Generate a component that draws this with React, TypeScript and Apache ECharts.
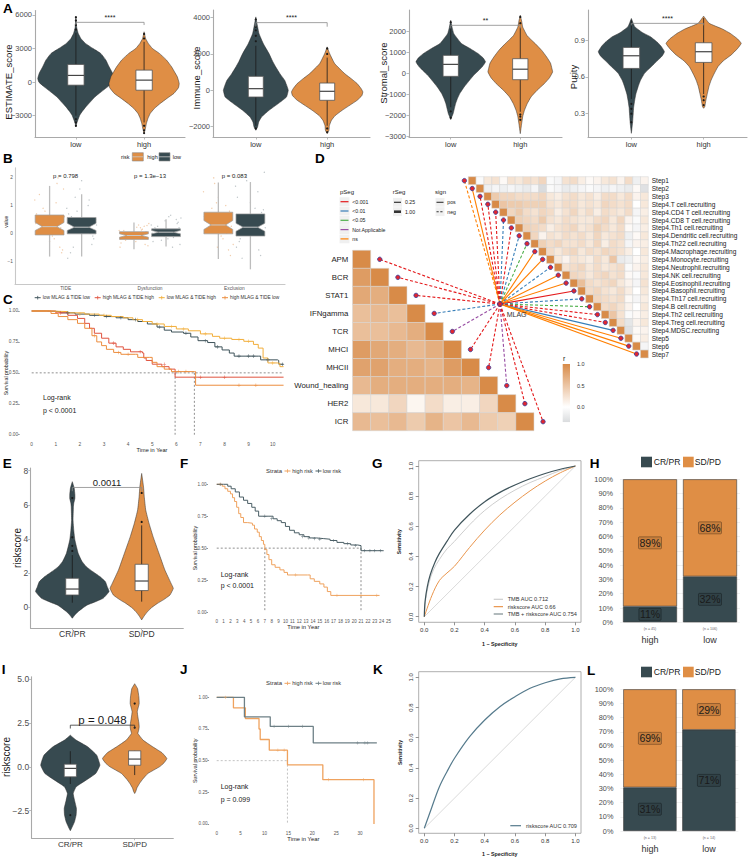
import React, { useEffect, useRef } from "react";
import * as echarts from "echarts";

const FONT = '"Liberation Sans", Arial, Helvetica, sans-serif';
const SLATE = "#374A50";
const ORANGE = "#DF8E45";
const TICK_GRAY = "#4D4D4D";
const AXIS_GRAY = "#A9A9A9";
const MINUS = "\u2212";
const PLUS = "path://M4.2,0H5.8V10H4.2ZM0,4.2H10V5.8H0Z";

// ================= Panel A =================
const A_GROUPS = ["low", "high"];
const A1_TICKS = [-3000, 0, 3000, 6000];
const A2_TICKS = [-2000, 0, 2000, 4000];
const A3_TICKS = [-3000, -2000, -1000, 0, 1000, 2000];
const A4_TICKS = [0.3, 0.6, 0.9];

const A1_LOW_PROFILE = [[5850,0],[4900,0.02],[4360,0.06],[3900,0.13],[3460,0.25],[3000,0.45],[2570,0.65],[2000,0.78],[1370,0.87],[800,0.96],[330,1.0],[0,0.97],[-420,0.83],[-900,0.65],[-1310,0.5],[-1800,0.37],[-2210,0.26],[-2600,0.17],[-2955,0.1],[-3400,0.05],[-3700,0.02],[-4000,0]];
const A1_HIGH_PROFILE = [[4500,0],[3900,0.04],[3460,0.11],[3000,0.22],[2570,0.4],[2000,0.58],[1370,0.72],[900,0.8],[480,0.87],[-120,0.92],[-500,0.9],[-1010,0.78],[-1450,0.6],[-1910,0.42],[-2350,0.27],[-2800,0.16],[-3250,0.1],[-3700,0.06],[-4200,0.03],[-4600,0]];
const A1_LOW_BOX = [-3000, -270, 600, 1580, 4400];
const A1_HIGH_BOX = [-3600, -720, 180, 1075, 3600];
const A1_LOW_OUT = [4700, 5100, 5500, 5800, -3300, -3600, -3900];
const A1_HIGH_OUT = [3900, 4300, -3900, -4300, -4550];

const A2_LOW_PROFILE = [[4040,0],[3500,0.05],[3120,0.09],[2570,0.21],[2020,0.37],[1600,0.47],[1280,0.56],[900,0.68],[550,0.81],[200,0.88],[0,0.91],[-370,0.86],[-730,0.63],[-1100,0.37],[-1470,0.16],[-1750,0.08],[-2020,0.05],[-2200,0]];
const A2_HIGH_PROFILE = [[2390,0],[2020,0.07],[1470,0.21],[920,0.49],[600,0.7],[370,0.84],[100,0.95],[-90,1.0],[-300,0.97],[-550,0.84],[-800,0.65],[-1100,0.42],[-1400,0.22],[-1650,0.12],[-1950,0.06],[-2200,0.05],[-2390,0]];
const A2_LOW_BOX = [-1950, -370, 90, 770, 2450];
const A2_HIGH_BOX = [-1950, -550, -55, 400, 1800];
const A2_LOW_OUT = [2700, 3000, 3300, 3500, 3900, -2100];
const A2_HIGH_OUT = [2000, 2300, -2100, -2300];

const A3_LOW_PROFILE = [[2540,0],[2200,0.04],[1900,0.09],[1430,0.31],[1200,0.55],[950,0.79],[750,0.93],[560,1.0],[350,0.92],[160,0.81],[-80,0.66],[-320,0.54],[-650,0.38],[-950,0.26],[-1200,0.19],[-1430,0.14],[-1700,0.1],[-1900,0.07],[-2190,0]];
const A3_HIGH_PROFILE = [[2780,0],[2500,0.04],[2220,0.07],[1800,0.2],[1430,0.43],[1100,0.62],[790,0.76],[500,0.87],[240,0.91],[80,0.93],[-200,0.84],[-480,0.69],[-800,0.48],[-1110,0.31],[-1430,0.2],[-1750,0.12],[-2050,0.07],[-2380,0.04],[-2860,0]];
const A3_LOW_BOX = [-1600, -130, 440, 870, 2300];
const A3_HIGH_BOX = [-1820, -290, 210, 710, 2200];
const A3_LOW_OUT = [-1800, -2100, 2450];
const A3_HIGH_OUT = [-1950, -2050, -2200, 2400, 2700];

const A4_LOW_PROFILE = [[1.076,0],[1.009,0.09],[0.96,0.3],[0.927,0.51],[0.88,0.7],[0.846,0.8],[0.805,0.88],[0.77,0.82],[0.737,0.71],[0.68,0.52],[0.629,0.35],[0.57,0.24],[0.52,0.18],[0.46,0.12],[0.411,0.09],[0.35,0.06],[0.303,0.05],[0.22,0.03],[0.14,0]];
const A4_HIGH_PROFILE = [[1.095,0],[1.036,0.15],[0.99,0.5],[0.954,0.71],[0.91,0.9],[0.873,1.0],[0.83,0.9],[0.778,0.73],[0.73,0.52],[0.683,0.38],[0.62,0.27],[0.574,0.2],[0.52,0.14],[0.466,0.1],[0.41,0.06],[0.357,0.03],[0.344,0]];
const A4_LOW_BOX = [0.42, 0.669, 0.772, 0.84, 1.06];
const A4_HIGH_BOX = [0.46, 0.718, 0.805, 0.878, 1.08];
const A4_LOW_OUT = [0.38, 0.34, 0.3, 0.23];
const A4_HIGH_OUT = [0.44, 0.41, 0.37];

// ================= Panel B =================
const B_GROUPS = ["TIDE", "Dysfunction", "Exclusion"];
const B_PVALUES = ["p = 0.798", "p = 1.3e\u221213", "p = 0.083"];
const B_TICKS = [-1, 0, 1, 2];
const B_HIGH_BOX = [[-0.84,-0.06,0.24,0.66,1.71],[-0.58,-0.22,-0.08,0.06,0.39],[-0.93,-0.02,0.3,0.76,1.83]];
const B_LOW_BOX = [[-0.84,-0.02,0.22,0.57,1.41],[-0.48,-0.12,0.04,0.16,0.51],[-1.3,-0.1,0.22,0.7,1.85]];
const B_HIGH_NOTCH = [[0.1,0.39],[-0.14,-0.02],[0.14,0.46]];
const B_LOW_NOTCH = [[0.1,0.36],[-0.02,0.1],[0.07,0.36]];
const B_JITTER = [-0.16,0.02,0.11,-0.07,0.15,-0.12,0.05,-0.02,0.09,-0.14,0.13,-0.04,0.07,-0.09,0.16,0.0,-0.11,0.12,-0.05,0.03,-0.15,0.08,-0.01,0.14];
const B_HIGH_POINTS = [
  [1.2,0.3,-0.5,0.9,1.6,0.1,-0.2,0.5,2.0,0.7,-0.7,0.4,1.1,0.0,0.6,-0.3,1.4,0.2,0.8,-0.1,0.35,1.8,0.55,-0.6],
  [0.1,-0.3,0.25,-0.1,-0.45,0.0,0.3,-0.2,0.15,-0.35,0.05,-0.05,0.2,-0.25,0.35,-0.15,0.1,-0.4,0.0,0.22,-0.5,0.12,-0.08,0.28],
  [1.5,0.2,-0.6,0.9,2.1,0.4,-0.2,1.1,0.0,0.7,-0.8,1.8,0.3,0.5,-0.4,1.3,0.1,0.8,2.0,-0.1,0.6,1.0,-0.5,0.25],
];
const B_LOW_POINTS = [
  [0.9,0.1,-0.4,1.3,0.5,-0.7,0.2,1.6,0.0,0.7,-0.2,0.4,1.0,-0.5,0.3,1.9,0.6,-0.1,0.8,0.15,-0.9,1.2,0.45,0.05],
  [0.3,-0.2,0.5,0.0,-0.4,0.2,0.65,-0.1,0.1,-0.3,0.4,0.05,-0.5,0.25,0.55,-0.05,0.15,0.35,-0.25,0.6,0.0,-0.15,0.45,0.2],
  [1.7,0.1,-0.8,0.6,2.2,-0.3,0.9,0.3,-0.6,1.3,0.0,1.9,0.5,-0.9,0.2,1.1,-0.2,0.75,2.1,0.4,-0.5,1.5,0.05,0.85],
];

// ================= Panel C =================
const C_X_TICKS = [0,1,2,3,4,5,6,7,8,9,10];
const KM_Y_TICKS = [0, 0.25, 0.5, 0.75, 1];
const C_NAMES = ["low MLAG & TIDE low", "high MLAG & TIDE high", "low MLAG & TIDE high", "high MLAG & TIDE low"];
const C_COLORS = ["#3E535A", "#E0533F", "#F2AE3A", "#EC8D3E"];
const C_LOWLOW = [[0,1],[0.6,0.995],[1.2,0.985],[1.8,0.975],[2.4,0.965],[3.0,0.955],[3.5,0.945],[4.0,0.93],[4.4,0.915],[4.8,0.895],[5.2,0.87],[5.5,0.845],[5.8,0.83],[6.3,0.82],[6.6,0.79],[6.9,0.76],[7.3,0.745],[7.6,0.71],[7.9,0.685],[8.2,0.66],[8.4,0.635],[9.4,0.635],[9.5,0.605],[10.2,0.6],[10.25,0.57],[10.45,0.57]];
const C_HIGHHIGH = [[0,1],[1.0,0.985],[1.5,0.965],[1.9,0.94],[2.2,0.9],[2.4,0.86],[2.6,0.82],[2.9,0.78],[3.2,0.74],[3.5,0.71],[3.8,0.69],[4.1,0.67],[4.6,0.66],[4.65,0.62],[4.75,0.6],[5.0,0.57],[5.4,0.55],[5.7,0.53],[5.95,0.465],[10.45,0.465]];
const C_LOWHIGH = [[0,1],[0.7,0.995],[1.5,0.985],[2.2,0.975],[2.8,0.965],[3.3,0.955],[3.8,0.945],[4.2,0.93],[4.6,0.915],[5.0,0.895],[5.5,0.875],[6.0,0.855],[6.5,0.84],[7.0,0.815],[7.5,0.795],[7.8,0.78],[8.3,0.77],[8.8,0.755],[9.2,0.73],[9.4,0.7],[9.6,0.62],[9.8,0.58],[10.2,0.575],[10.3,0.55],[10.45,0.55]];
const C_HIGHLOW = [[0,1],[0.8,0.98],[1.1,0.955],[1.5,0.93],[1.9,0.9],[2.2,0.86],[2.5,0.8],[2.7,0.75],[2.9,0.72],[3.1,0.69],[3.4,0.665],[3.7,0.65],[4.3,0.65],[4.4,0.625],[4.9,0.625],[5.0,0.585],[5.2,0.55],[5.5,0.53],[5.8,0.51],[6.75,0.51],[6.8,0.4],[10.45,0.4]];
const C_LOWLOW_CENS = [[1.5,0.985],[2.6,0.965],[3.1,0.955],[3.7,0.945],[4.3,0.93],[5.3,0.87],[6.4,0.82],[7.2,0.76],[7.7,0.71],[8.6,0.635],[9.0,0.635],[9.2,0.635],[9.8,0.605],[10.4,0.57]];
const C_LOWHIGH_CENS = [[2.0,0.975],[3.0,0.965],[4.4,0.93],[5.2,0.895],[5.8,0.875],[6.3,0.855],[7.2,0.815],[8.0,0.78],[8.6,0.77],[9.0,0.755],[10.0,0.58]];
const C_HIGHHIGH_CENS = [[1.2,0.985],[3.4,0.74],[4.5,0.67],[5.5,0.57],[7.0,0.465],[8.0,0.465]];
const C_HIGHLOW_CENS = [[2.6,0.8],[3.6,0.665],[4.0,0.65],[6.1,0.51],[6.4,0.51],[8.6,0.4],[9.3,0.4]];
const C_MEDIANS = [5.95, 6.75];

// ================= Panel D =================
const STEP_NAMES = ["Step1","Step2","Step3","Step4.T cell.recruiting","Step4.CD4 T cell.recruiting","Step4.CD8 T cell.recruiting","Step4.Th1 cell.recruiting","Step4.Dendritic cell.recruiting","Step4.Th22 cell.recruiting","Step4.Macrophage.recruiting","Step4.Monocyte.recruiting","Step4.Neutrophil.recruiting","Step4.NK cell.recruiting","Step4.Eosinophil.recruiting","Step4.Basophil.recruiting","Step4.Th17 cell.recruiting","Step4.B cell.recruiting","Step4.Th2 cell.recruiting","Step4.Treg cell.recruiting","Step4.MDSC.recruiting","Step5","Step6","Step7"];
const STEP_R = [
  [1,-0.05,0.2,0.25,0.05,0.25,0.2,0.3,0.25,0.35,-0.05,-0.1,0.25,0.3,0.15,0.05,0.1,0.2,0.25,0.1,0.3,-0.15,0.1],
  [1,-0.15,-0.1,-0.15,-0.1,-0.15,-0.2,-0.1,-0.35,-0.05,-0.1,-0.2,-0.15,-0.1,-0.05,-0.1,-0.15,-0.1,-0.15,-0.2,0.05,-0.3],
  [1,0.45,0.35,0.35,0.3,0.3,0.3,0.35,0.2,0.15,0.25,0.3,0.2,0.25,0.15,0.3,0.3,0.2,0.3,0.1,0.2],
  [1,0.5,0.45,0.45,0.4,0.4,0.4,0.25,0.2,0.3,0.3,0.2,0.25,0.2,0.35,0.3,0.25,0.3,0.0,0.2],
  [1,0.35,0.45,0.3,0.25,0.35,0.3,0.15,0.25,0.35,0.2,0.3,0.15,0.3,0.25,0.2,0.3,-0.1,0.15],
  [1,0.4,0.35,0.3,0.45,0.25,0.2,0.3,0.25,0.2,0.2,0.3,0.35,0.2,0.35,0.1,-0.05,0.2],
  [1,0.4,0.35,0.3,0.15,0.25,0.3,0.35,0.2,0.25,0.4,0.3,0.2,0.3,0.05,-0.1,0.15],
  [1,0.35,0.1,0.25,0.2,0.3,0.25,0.3,0.2,0.35,0.2,0.25,0.3,-0.15,0.05,0.2],
  [1,0.4,0.3,0.35,0.25,0.25,0.3,0.2,0.35,0.15,0.3,0.25,-0.1,0.1,0.15],
  [1,0.3,0.2,0.3,0.35,0.2,0.3,0.25,0.35,0.3,0.25,0.15,0.0,0.2],
  [1,0.2,0.1,0.25,0.2,0.15,0.3,0.2,0.5,-0.2,-0.15,0.05,0.15],
  [1,0.25,0.3,0.35,0.2,0.3,0.2,0.25,0.3,-0.05,0.1,0.2],
  [1,0.35,0.3,0.2,0.3,0.35,0.25,0.3,0.05,-0.05,0.2],
  [1,0.55,0.3,0.25,0.3,0.35,0.2,0.1,-0.1,0.25],
  [1,0.3,0.35,0.25,0.2,0.3,0.15,0.0,0.2],
  [1,0.35,0.3,0.25,0.3,0.05,-0.1,0.15],
  [1,0.3,0.35,0.25,0.1,0.0,0.2],
  [1,0.5,0.25,-0.05,0.05,0.15],
  [1,0.3,-0.25,0.1,0.2],
  [1,-0.3,0.05,0.1],
  [1,0.05,0.15],
  [1,-0.1],
  [1],
];
const STEP_PSEG = ["ns","ns","<0.001","<0.001","<0.001","<0.01","<0.001","<0.01","<0.05","ns","ns","<0.01","ns","ns","<0.001","<0.01","<0.05","<0.001","<0.001","<0.01","ns","ns","ns"];
const STEP_SIGN = ["neg","pos","neg","neg","neg","neg","neg","neg","neg","pos","pos","neg","pos","pos","pos","neg","neg","neg","neg","pos","pos","pos","pos"];
const SIG_NAMES = ["APM","BCR","STAT1","IFNgamma","TCR","MHCI","MHCII","Wound_healing","HER2","ICR"];
const SIG_R = [
  [1],
  [0.85,1],
  [0.75,0.7,1],
  [0.55,0.6,0.55,1],
  [0.55,0.55,0.6,0.7,1],
  [0.85,0.75,0.7,0.6,0.7,1],
  [0.8,0.8,0.7,0.7,0.65,0.85,1],
  [0.6,0.7,0.7,0.7,0.7,0.7,0.65,1],
  [0.2,0.2,0.35,0.08,0.3,0.15,0.15,0.35,1],
  [0.6,0.55,0.6,0.45,0.65,0.5,0.6,0.45,0.4,1],
];
const SIG_PSEG = ["<0.001","<0.001","<0.001","<0.01","Not Applicable","<0.001","<0.001","Not Applicable","<0.001","<0.001"];
const SIG_SIGN = ["neg","neg","neg","neg","neg","neg","neg","neg","neg","neg"];
const PSEG_LEVELS = ["<0.001","<0.01","<0.05","Not Applicable","ns"];
const PSEG_COLORS = ["#E41A1C","#377EB8","#4DAF4A","#984EA3","#FF7F00"];
const RSEG_LEVELS = ["0.25","1.00"];
const SIGN_LEVELS = ["pos","neg"];
const R_LEGEND = [1.0, 0.5, 0.0];
const R_MIN = -0.35;

// ================= Panel E / I =================
const RESP_GROUPS = ["CR/PR", "SD/PD"];
const E_TICKS = [0, 2, 4, 6, 8];
const E_CR_PROFILE = [[7.36,0],[7.0,0.05],[6.6,0.07],[6.38,0.07],[6.1,0.04],[5.9,0.03],[5.1,0.02],[4.5,0.04],[3.94,0.07],[3.16,0.16],[2.7,0.26],[2.38,0.38],[2.1,0.55],[1.8,0.75],[1.5,0.9],[1.21,0.95],[0.92,1.0],[0.53,0.84],[0.3,0.6],[0.14,0.41],[-0.05,0.28],[-0.25,0.16],[-0.45,0.07],[-0.64,0]];
const E_SD_PROFILE = [[7.84,0],[7.06,0.05],[6.48,0.07],[5.7,0.11],[4.92,0.2],[4.14,0.31],[3.16,0.47],[2.19,0.63],[1.4,0.8],[1.11,0.86],[0.72,0.77],[0.45,0.6],[0.23,0.43],[0.0,0.28],[-0.25,0.16],[-0.5,0.07],[-0.74,0]];
const E_CR_BOX = [0.27, 0.72, 1.07, 1.7, 3.06];
const E_SD_BOX = [0.33, 0.98, 1.54, 2.52, 4.8];
const E_CR_OUT = [3.3, 3.6, 4.1, 6.4];
const E_SD_OUT = [5.0, 6.7];
const E_PVALUE = "0.0011";

const I_TICKS = [-2.5, 0, 2.5, 5];
const I_CR_PROFILE = [[1.8,0],[1.52,0.18],[1.14,0.54],[0.66,0.82],[0.09,0.92],[-0.38,0.79],[-0.76,0.49],[-1.14,0.18],[-1.52,0.09],[-1.9,0.13],[-2.37,0.19],[-2.75,0.18],[-3.13,0.13],[-3.5,0.04],[-3.64,0]];
const I_SD_PROFILE = [[4.73,0],[4.45,0.09],[3.98,0.13],[3.6,0.14],[3.3,0.1],[3.13,0.08],[2.84,0.1],[2.5,0.13],[2.27,0.14],[2.05,0.12],[1.9,0.1],[1.52,0.26],[1.14,0.56],[0.8,0.85],[0.47,1.0],[0.2,0.9],[0.0,0.77],[-0.38,0.41],[-0.7,0.25],[-0.95,0.15],[-1.2,0.07],[-1.42,0.03],[-1.52,0]];
const I_CR_BOX = [-0.98, -0.57, -0.09, 0.15, 0.89];
const I_SD_BOX = [-0.47, 0.09, 0.44, 0.91, 0.91];
const I_CR_OUT = [-2.75];
const I_SD_OUT = [2.23, 3.6];
const I_PVALUE = "p = 0.048";

// ================= Panel F / J =================
const RISK_NAMES = ["high risk", "low risk"];
const RISK_COLORS = ["#EFA25E", "#4A5E65"];
const F_X_TICKS = [0,1,2,3,4,5,6,7,8,9,10,11,12,13,14,15,16,17,18,19,20,21,22,23,24,25];
const F_HIGH = [[0,1],[0.8,0.985],[1.2,0.965],[1.6,0.945],[2.0,0.925],[2.3,0.895],[2.6,0.865],[2.9,0.82],[3.2,0.77],[3.5,0.74],[3.9,0.7],[4.5,0.695],[5.2,0.68],[5.5,0.65],[5.9,0.625],[6.2,0.59],[6.5,0.56],[6.8,0.53],[7.0,0.49],[7.3,0.45],[7.6,0.41],[8.0,0.37],[8.5,0.35],[9.2,0.33],[9.8,0.31],[10.3,0.29],[13.2,0.29],[13.6,0.26],[14.2,0.24],[15.0,0.22],[15.6,0.195],[16.1,0.16],[16.6,0.13],[23.7,0.13]];
const F_LOW = [[0,1],[1.0,1],[1.6,0.985],[2.1,0.965],[2.7,0.94],[3.3,0.9],[3.9,0.875],[4.5,0.85],[5.1,0.82],[5.6,0.79],[6.1,0.75],[7.6,0.75],[8.2,0.73],[8.8,0.715],[9.4,0.7],[10.0,0.67],[10.6,0.64],[11.3,0.62],[12.0,0.605],[12.7,0.59],[13.5,0.58],[14.5,0.575],[15.5,0.57],[16.5,0.56],[17.5,0.545],[18.5,0.535],[19.5,0.525],[20.5,0.52],[21.0,0.48],[24.3,0.48]];
const F_HIGH_CENS = [[0.5,1],[11.5,0.29],[17.5,0.13],[21.0,0.13],[23.3,0.13]];
const F_LOW_CENS = [[0.5,1],[7.0,0.75],[8.0,0.73],[12.5,0.59],[13.4,0.58],[14.2,0.575],[15.0,0.57],[17.0,0.56],[19.0,0.535],[20.2,0.52],[21.5,0.48],[22.3,0.48],[23.0,0.48],[23.8,0.48]];
const F_MEDIANS = [7.0, 21.0];

const J_X_TICKS = [0, 5, 10, 15, 20, 25, 30];
const J_HIGH = [[0,1],[3.5,0.917],[6.0,0.833],[8.85,0.75],[9.1,0.667],[11.0,0.583],[14.8,0.467],[22.2,0.35],[32.9,0.0]];
const J_LOW = [[0,1],[5.8,0.846],[11.2,0.77],[20.2,0.64],[33.5,0.64]];
const J_HIGH_CENS = [[1.8,1],[12.8,0.583],[14.1,0.583],[23.4,0.35],[30.7,0.35]];
const J_LOW_CENS = [[12,0.77],[15,0.77],[18,0.77],[29.5,0.64],[31,0.64],[31.6,0.64]];
const J_MEDIANS = [14.8];

// ================= Panel G / K =================
const ROC_TICKS = [0, 0.2, 0.4, 0.6, 0.8, 1];
const G_NAMES = ["TMB AUC 0.712", "riskscore AUC 0.66", "TMB + riskscore AUC 0.754"];
const G_COLORS = ["#CDCDCD", "#E9954C", "#3F545B"];
const G_TMB = [[0,0],[0.01,0.12],[0.03,0.22],[0.06,0.31],[0.1,0.38],[0.15,0.45],[0.2,0.5],[0.3,0.61],[0.4,0.705],[0.5,0.78],[0.6,0.84],[0.7,0.89],[0.8,0.93],[0.9,0.97],[1,1]];
const G_RISK = [[0,0],[0.05,0.14],[0.1,0.24],[0.15,0.29],[0.2,0.335],[0.3,0.46],[0.4,0.575],[0.5,0.675],[0.6,0.76],[0.7,0.835],[0.8,0.9],[0.9,0.955],[1,1]];
const G_COMB = [[0,0],[0.005,0.1],[0.02,0.2],[0.04,0.28],[0.07,0.36],[0.1,0.42],[0.15,0.5],[0.2,0.575],[0.3,0.68],[0.4,0.763],[0.5,0.825],[0.6,0.874],[0.7,0.915],[0.8,0.95],[0.9,0.978],[1,1]];
const K_NAME = "riskscore AUC 0.709";
const K_COLOR = "#557A8C";
const K_RISK = [[0,0],[0.05,0.14],[0.1,0.275],[0.15,0.375],[0.2,0.464],[0.3,0.607],[0.4,0.717],[0.5,0.805],[0.6,0.871],[0.7,0.927],[0.8,0.964],[0.9,0.99],[1,1]];

// ================= Panel H / L =================
const BAR_GROUPS = ["high", "low"];
const RESP_COLORS = [SLATE, ORANGE];
const H_CR = [5, 34];
const H_SD = [40, 72];
const L_CR = [4, 10];
const L_SD = [9, 4];

// ================= Layout (pixel boxes of panels) =================
const LAYOUT: Record<string, number[]> = {
  A1: [35, 10.5, 185, 137],
  A2: [213, 10, 370, 137],
  A3: [409, 10, 562, 137],
  A4: [588, 10, 747, 137],
  B: [15, 167.9, 285, 284],
  C: [19.65, 304.8, 296.1, 440.9],
  DU: [472.2, 180.64, 644.4, 354],
  DL: [361.6, 259.3, 524.9, 421.7],
  E: [30.7, 468, 183.3, 628.3],
  F: [208, 477.9, 398.8, 618.4],
  G: [418.7, 460.7, 581, 622.3],
  H: [620, 479.3, 740, 622.3],
  I: [31.7, 676.7, 173.3, 838.3],
  J: [209.05, 691, 384.5, 830.3],
  K: [418.7, 671.7, 581, 833.3],
  L: [620.4, 689.3, 738.4, 831],
};
const ORDER = ["A1","A2","A3","A4","B","C","DU","DL","E","F","G","H","I","J","K","L"];
const gi = (k: string) => ORDER.indexOf(k);
const MLAG_NODE = [500, 304];

// ================= helpers =================
const fmtNum = (d: number) => (v: number) => (v < 0 ? MINUS : "") + Math.abs(v).toFixed(d);
const fmtCat = (cats: string[]) => (v: number) => cats[Math.round(v) - 1] ?? "";

function axis(g: number, min: number, max: number, o: any = {}) {
  const a: any = {
    type: "value", gridIndex: g, min, max, inverse: !!o.inverse,
    axisLine: { show: !!o.line, onZero: false, lineStyle: { color: o.lineColor || AXIS_GRAY, width: o.lineWidth || 1.1 } },
    axisTick: { show: false },
    axisLabel: { show: false },
    splitLine: { show: false },
  };
  if (o.position) a.position = o.position;
  if (o.interval) { a.interval = o.interval; }
  if (o.ticks || o.interval) {
    a.axisLabel = {
      show: o.labels !== false, formatter: o.fmt || ((v: number) => String(v)),
      fontSize: o.fs || 7, color: o.color || TICK_GRAY, margin: o.margin ?? 3, fontFamily: FONT, rotate: o.rotate || 0,
    };
    if (o.ticks) a.axisLabel.customValues = o.ticks;
    if (o.tickLen) {
      a.axisTick = { show: true, length: o.tickLen, lineStyle: { color: o.tickColor || AXIS_GRAY, width: 0.8 } };
      if (o.ticks) a.axisTick.customValues = o.ticks;
    }
  }
  if (o.split) a.splitLine = { show: true, lineStyle: { color: "#EBEBEB", width: 0.7 } };
  return a;
}

function lerpColor(c: number[], t: number) {
  const m = c.map((ch) => Math.round(255 + (ch - 255) * t));
  return `rgb(${m[0]},${m[1]},${m[2]})`;
}
function rColor(v: number) {
  const t = Math.min(1, Math.abs(v));
  return v >= 0 ? lerpColor([216, 139, 72], t) : lerpColor([150, 156, 160], t);
}

function violinSeries(g: number, violins: any[], hw: number, bw: number) {
  return {
    type: "custom", xAxisIndex: g, yAxisIndex: g, silent: true, z: 3,
    data: violins.map((_, i) => [i + 1, 0]),
    renderItem: (params: any, api: any) => {
      const v = violins[params.dataIndex];
      const cx = params.dataIndex + 1;
      const right = v.profile.map((p: number[]) => api.coord([cx + p[1] * hw, p[0]]));
      const left = v.profile.slice().reverse().map((p: number[]) => api.coord([cx - p[1] * hw, p[0]]));
      const [wlo, q1, med, q3, whi] = v.box;
      const tl = api.coord([cx - bw, q3]);
      const br = api.coord([cx + bw, q1]);
      const m0 = api.coord([cx - bw, med]);
      const m1 = api.coord([cx + bw, med]);
      const w0 = api.coord([cx, wlo]);
      const w1 = api.coord([cx, whi]);
      const children: any[] = [
        { type: "polygon", shape: { points: right.concat(left), smooth: 0.12 }, style: { fill: v.color, stroke: "#2b2b2b", lineWidth: 0.5 } },
        { type: "line", shape: { x1: w0[0], y1: w0[1], x2: w1[0], y2: w1[1] }, style: { stroke: "#1a1a1a", lineWidth: 0.8 } },
        { type: "rect", shape: { x: tl[0], y: tl[1], width: br[0] - tl[0], height: br[1] - tl[1] }, style: { fill: "#ffffff", stroke: "#555555", lineWidth: 0.8 } },
        { type: "line", shape: { x1: m0[0], y1: m0[1], x2: m1[0], y2: m1[1] }, style: { stroke: "#444444", lineWidth: 1.2 } },
      ];
      v.outliers.forEach((o: number) => {
        const p = api.coord([cx, o]);
        children.push({ type: "circle", shape: { cx: p[0], cy: p[1], r: 1.1 }, style: { fill: "#1a1a1a" } });
      });
      return { type: "group", children };
    },
  };
}

function bracketSeries(g: number, y: number, drop: number, label: string, labelY: number, fs: number, color: string) {
  return {
    type: "custom", xAxisIndex: g, yAxisIndex: g, silent: true, z: 4,
    data: [[1, y]],
    renderItem: (_p: any, api: any) => {
      const l = api.coord([1, y]), r = api.coord([2, y]);
      const ld = api.coord([1, drop]), rd = api.coord([2, drop]);
      const t = api.coord([1.5, labelY]);
      return {
        type: "group",
        children: [
          { type: "polyline", shape: { points: [ld, l, r, rd] }, style: { stroke: color, lineWidth: 0.8, fill: "none" } },
          { type: "text", x: t[0], y: t[1], style: { text: label, fontSize: fs, fontFamily: FONT, fill: "#1a1a1a", align: "center", verticalAlign: "middle", textAlign: "center", textVerticalAlign: "middle" } },
        ],
      };
    },
  };
}

function kmLine(g: number, data: number[][], color: string, width = 1) {
  return { type: "line", xAxisIndex: g, yAxisIndex: g, data, step: "end", symbol: "none", showSymbol: false, lineStyle: { color, width }, silent: true, clip: false, z: 3 };
}
function censors(g: number, data: number[][], color: string, size = 3.6) {
  return { type: "scatter", xAxisIndex: g, yAxisIndex: g, data, symbol: PLUS, symbolSize: size, itemStyle: { color }, silent: true, z: 4 };
}
function dashed(g: number, data: number[][], color = "#444", width = 0.6) {
  return { type: "line", xAxisIndex: g, yAxisIndex: g, data, symbol: "none", showSymbol: false, lineStyle: { color, width, type: [2, 2] }, silent: true, clip: false, z: 2 };
}
function rocLine(g: number, data: number[][], color: string, width = 1) {
  return { type: "line", xAxisIndex: g, yAxisIndex: g, data, smooth: 0.35, symbol: "none", showSymbol: false, lineStyle: { color, width }, silent: true, z: 3 };
}

function txt(text: string, x: number, y: number, fs: number, o: any = {}) {
  return {
    type: "text", x, y, rotation: o.rot ? Math.PI / 2 : 0, z: o.z || 50,
    style: {
      text, fontSize: fs, fontFamily: FONT, fontWeight: o.bold ? "bold" : "normal", fill: o.color || "#1a1a1a",
      align: o.align || "left", verticalAlign: "middle", textAlign: o.align || "left", textVerticalAlign: "middle",
    },
  };
}
function seg(x1: number, y1: number, x2: number, y2: number, color: string, width = 1, dash?: number[]) {
  return { type: "line", z: 50, shape: { x1, y1, x2, y2 }, style: { stroke: color, lineWidth: width, lineDash: dash || null } };
}
function box(x: number, y: number, w: number, h: number, fill: string, stroke?: string, z = 49) {
  return { type: "rect", z, shape: { x, y, width: w, height: h }, style: { fill, stroke: stroke || null, lineWidth: stroke ? 0.6 : 0 } };
}
function kmKey(x: number, y: number, color: string) {
  return [seg(x - 3, y, x + 3, y, color, 1), seg(x, y - 1.8, x, y + 1.8, color, 0.8)];
}

function buildOption() {
  const grid = ORDER.map((k) => {
    const [x0, y0, x1, y1] = LAYOUT[k];
    return { left: x0, top: y0, width: x1 - x0, height: y1 - y0, show: k === "G" || k === "K", borderColor: "#9A9A9A", borderWidth: 0.8, backgroundColor: "transparent" };
  });

  const xAxis: any[] = [];
  const yAxis: any[] = [];
  const ggX = (k: string, cats: string[], fs: number, margin: number) =>
    axis(gi(k), 0.4, 2.6, { line: true, ticks: [1, 2], fmt: fmtCat(cats), fs, margin, tickLen: 2.5, color: "#333" });
  const nRich = { n: { fontSize: 3.6, color: "#666", lineHeight: 8, fontFamily: FONT }, c: { fontSize: 9, color: "#333", lineHeight: 14, fontFamily: FONT } };
  const barX = (k: string, cr: number[], sd: number[]) => ({
    type: "category", gridIndex: gi(k), data: BAR_GROUPS, boundaryGap: true,
    axisLine: { show: false }, axisTick: { show: false }, splitLine: { show: false },
    axisLabel: { interval: 0, hideOverlap: false, margin: 3, rich: nRich, formatter: (v: string, i: number) => `{n|(n = ${cr[i] + sd[i]})}\n{c|${v}}` },
  });
  // A
  xAxis.push(ggX("A1", A_GROUPS, 7.5, 3)); yAxis.push(axis(gi("A1"), -4900, 6400, { line: true, ticks: A1_TICKS, fmt: fmtNum(0), fs: 7.5, tickLen: 2.5, margin: 3 }));
  xAxis.push(ggX("A2", A_GROUPS, 7.5, 3)); yAxis.push(axis(gi("A2"), -2570, 4420, { line: true, ticks: A2_TICKS, fmt: fmtNum(0), fs: 7.5, tickLen: 2.5, margin: 3 }));
  xAxis.push(ggX("A3", A_GROUPS, 7.5, 3)); yAxis.push(axis(gi("A3"), -3020, 3030, { line: true, ticks: A3_TICKS, fmt: fmtNum(0), fs: 7.5, tickLen: 2.5, margin: 3 }));
  xAxis.push(ggX("A4", A_GROUPS, 7.5, 3)); yAxis.push(axis(gi("A4"), 0.11, 1.145, { line: true, ticks: A4_TICKS, fmt: fmtNum(1), fs: 7.5, tickLen: 2.5, margin: 3 }));
  // B
  xAxis.push(axis(gi("B"), 0.4, 3.6, { line: true, lineColor: "#C8C8C8", ticks: [1, 2, 3], fmt: fmtCat(B_GROUPS), fs: 4.8, margin: 1.5, color: "#555" }));
  yAxis.push(axis(gi("B"), -1.83, 2.36, { line: true, lineColor: "#C8C8C8", ticks: B_TICKS, fmt: fmtNum(0), fs: 4.8, margin: 2, color: "#555" }));
  // C
  xAxis.push(axis(gi("C"), -0.5, 10.97, { ticks: C_X_TICKS, fs: 4.8, margin: 1, color: "#555" }));
  yAxis.push(axis(gi("C"), -0.05, 1.05, { ticks: KM_Y_TICKS, fmt: fmtNum(2), fs: 4.8, margin: 1.5, color: "#555", tickLen: 1.5, tickColor: "#777" }));
  // D
  xAxis.push(axis(gi("DU"), 0, 22));
  yAxis.push(axis(gi("DU"), 0, 22, { inverse: true, position: "right", ticks: STEP_NAMES.map((_, i) => i), fmt: (v: number) => STEP_NAMES[Math.round(v)], fs: 6.6, margin: 7.3, color: "#1a1a1a" }));
  xAxis.push(axis(gi("DL"), 0, 9));
  yAxis.push(axis(gi("DL"), 0, 9, { inverse: true, position: "left", ticks: SIG_NAMES.map((_, i) => i), fmt: (v: number) => SIG_NAMES[Math.round(v)], fs: 7.8, margin: 13.3, color: "#1a1a1a" }));
  // E
  xAxis.push(axis(gi("E"), 0.4, 2.6, { line: true, ticks: [1, 2], fmt: fmtCat(RESP_GROUPS), fs: 8.5, margin: 1.5, tickLen: 2, color: "#333" }));
  yAxis.push(axis(gi("E"), -1.23, 8.16, { line: true, ticks: E_TICKS, fmt: fmtNum(0), fs: 8.5, tickLen: 2.5, margin: 2.5 }));
  // F
  xAxis.push(axis(gi("F"), -1.27, 26.5, { ticks: F_X_TICKS, fs: 4.5, margin: 0.5, color: "#555" }));
  yAxis.push(axis(gi("F"), -0.05, 1.05, { ticks: KM_Y_TICKS, fmt: fmtNum(2), fs: 4.6, margin: 1.5, color: "#555", tickLen: 1.5, tickColor: "#777" }));
  // G
  xAxis.push(axis(gi("G"), -0.037, 1.037, { ticks: ROC_TICKS, fmt: fmtNum(1), fs: 6, margin: 5, tickLen: 3, tickColor: "#777", color: "#333" }));
  yAxis.push(axis(gi("G"), -0.037, 1.035, { ticks: ROC_TICKS, fmt: fmtNum(1), fs: 6, margin: 5, tickLen: 3, tickColor: "#777", color: "#333", rotate: 90 }));
  // H
  xAxis.push(barX("H", H_CR, H_SD));
  yAxis.push(axis(gi("H"), 0, 100, { interval: 10, fmt: (v: number) => v + "%", fs: 7.3, margin: 7, split: true }));
  // I
  xAxis.push(axis(gi("I"), 0.4, 2.6, { line: true, ticks: [1, 2], fmt: fmtCat(RESP_GROUPS), fs: 8, margin: 2, tickLen: 2, color: "#333" }));
  yAxis.push(axis(gi("I"), -4.07, 5.13, { line: true, ticks: I_TICKS, fmt: fmtNum(1), fs: 8.5, tickLen: 2.5, margin: 2.5 }));
  // J
  xAxis.push(axis(gi("J"), -1.6, 35.1, { ticks: J_X_TICKS, fs: 4.6, margin: 0.5, color: "#555" }));
  yAxis.push(axis(gi("J"), -0.05, 1.05, { ticks: KM_Y_TICKS, fmt: fmtNum(2), fs: 4.6, margin: 1.5, color: "#555", tickLen: 1.5, tickColor: "#777" }));
  // K
  xAxis.push(axis(gi("K"), -0.037, 1.037, { ticks: ROC_TICKS, fmt: fmtNum(1), fs: 6, margin: 5, tickLen: 3, tickColor: "#777", color: "#333" }));
  yAxis.push(axis(gi("K"), -0.033, 1.037, { ticks: ROC_TICKS, fmt: fmtNum(1), fs: 6, margin: 5, tickLen: 3, tickColor: "#777", color: "#333", rotate: 90 }));
  // L
  xAxis.push(barX("L", L_CR, L_SD));
  yAxis.push(axis(gi("L"), 0, 100, { interval: 10, fmt: (v: number) => v + "%", fs: 7.3, margin: 7, split: true }));

  const series: any[] = [];

  // ---- A violins
  const mk = (profile: number[][], b: number[], out: number[], color: string) => ({ profile, box: b, outliers: out, color });
  series.push(violinSeries(gi("A1"), [mk(A1_LOW_PROFILE, A1_LOW_BOX, A1_LOW_OUT, SLATE), mk(A1_HIGH_PROFILE, A1_HIGH_BOX, A1_HIGH_OUT, ORANGE)], 0.56, 0.12));
  series.push(violinSeries(gi("A2"), [mk(A2_LOW_PROFILE, A2_LOW_BOX, A2_LOW_OUT, SLATE), mk(A2_HIGH_PROFILE, A2_HIGH_BOX, A2_HIGH_OUT, ORANGE)], 0.5, 0.105));
  series.push(violinSeries(gi("A3"), [mk(A3_LOW_PROFILE, A3_LOW_BOX, A3_LOW_OUT, SLATE), mk(A3_HIGH_PROFILE, A3_HIGH_BOX, A3_HIGH_OUT, ORANGE)], 0.5, 0.11));
  series.push(violinSeries(gi("A4"), [mk(A4_LOW_PROFILE, A4_LOW_BOX, A4_LOW_OUT, SLATE), mk(A4_HIGH_PROFILE, A4_HIGH_BOX, A4_HIGH_OUT, ORANGE)], 0.52, 0.115));
  series.push(bracketSeries(gi("A1"), 5343, 5100, "****", 5800, 7, "#8a8a8a"));
  series.push(bracketSeries(gi("A2"), 3725, 3500, "****", 4030, 7, "#8a8a8a"));
  series.push(bracketSeries(gi("A3"), 2300, 2150, "**", 2540, 7, "#8a8a8a"));
  series.push(bracketSeries(gi("A4"), 1.036, 1.02, "****", 1.076, 7, "#8a8a8a"));

  // ---- B jitter + notched boxes
  const bJit = (pts: number[][], dx: number, color: string) => ({
    type: "scatter", xAxisIndex: gi("B"), yAxisIndex: gi("B"), silent: true, z: 2, symbolSize: 1.3,
    itemStyle: { color, opacity: 0.45 },
    data: pts.flatMap((vals, g) => vals.map((v, j) => [g + 1 + dx + B_JITTER[j % B_JITTER.length] * 1.1, v])),
  });
  series.push(bJit(B_HIGH_POINTS, -0.19, ORANGE));
  series.push(bJit(B_LOW_POINTS, 0.19, "#6E7F85"));
  const bBoxes = [
    ...B_HIGH_BOX.map((b, g) => ({ g: g + 1, dx: -0.19, b, n: B_HIGH_NOTCH[g], color: ORANGE })),
    ...B_LOW_BOX.map((b, g) => ({ g: g + 1, dx: 0.19, b, n: B_LOW_NOTCH[g], color: SLATE })),
  ];
  series.push({
    type: "custom", xAxisIndex: gi("B"), yAxisIndex: gi("B"), silent: true, z: 3,
    data: bBoxes.map((d) => [d.g + d.dx, d.b[2]]),
    renderItem: (params: any, api: any) => {
      const d = bBoxes[params.dataIndex];
      const cx = d.g + d.dx, hw = 0.171, hn = 0.0855;
      const [wlo, q1, med, q3, whi] = d.b;
      const [nlo, nhi] = d.n;
      const pts = [[cx - hw, q1], [cx + hw, q1], [cx + hw, nlo], [cx + hn, med], [cx + hw, nhi], [cx + hw, q3], [cx - hw, q3], [cx - hw, nhi], [cx - hn, med], [cx - hw, nlo]].map((p) => api.coord(p));
      const a = api.coord([cx, q3]), b = api.coord([cx, whi]), c = api.coord([cx, q1]), e = api.coord([cx, wlo]);
      const m0 = api.coord([cx - hn, med]), m1 = api.coord([cx + hn, med]);
      return {
        type: "group",
        children: [
          { type: "line", shape: { x1: a[0], y1: a[1], x2: b[0], y2: b[1] }, style: { stroke: "#BDBDBD", lineWidth: 1.3 } },
          { type: "line", shape: { x1: c[0], y1: c[1], x2: e[0], y2: e[1] }, style: { stroke: "#BDBDBD", lineWidth: 1.3 } },
          { type: "polygon", shape: { points: pts }, style: { fill: d.color, stroke: "#9E9E9E", lineWidth: 0.7 } },
          { type: "line", shape: { x1: m0[0], y1: m0[1], x2: m1[0], y2: m1[1] }, style: { stroke: "#C9C9C9", lineWidth: 1 } },
        ],
      };
    },
  });

  // ---- C KM
  const gC = gi("C");
  series.push(dashed(gC, [[0, 0.5], [10.45, 0.5]]));
  C_MEDIANS.forEach((m) => series.push(dashed(gC, [[m, 0.5], [m, 0]])));
  series.push(kmLine(gC, C_LOWLOW, C_COLORS[0]));
  series.push(kmLine(gC, C_HIGHHIGH, C_COLORS[1]));
  series.push(kmLine(gC, C_LOWHIGH, C_COLORS[2]));
  series.push(kmLine(gC, C_HIGHLOW, C_COLORS[3]));
  series.push(censors(gC, C_LOWLOW_CENS, C_COLORS[0]));
  series.push(censors(gC, C_HIGHHIGH_CENS, C_COLORS[1]));
  series.push(censors(gC, C_LOWHIGH_CENS, C_COLORS[2]));
  series.push(censors(gC, C_HIGHLOW_CENS, C_COLORS[3]));

  // ---- D heatmaps
  const cellSeries = (g: number, cells: number[][]) => ({
    type: "custom", xAxisIndex: g, yAxisIndex: g, silent: true, z: 2, data: cells,
    renderItem: (_p: any, api: any) => {
      const c = api.value(0), r = api.value(1), v = api.value(2);
      const p0 = api.coord([c - 0.5, r - 0.5]);
      const p1 = api.coord([c + 0.5, r + 0.5]);
      return { type: "rect", shape: { x: Math.min(p0[0], p1[0]), y: Math.min(p0[1], p1[1]), width: Math.abs(p1[0] - p0[0]), height: Math.abs(p1[1] - p0[1]) }, style: { fill: rColor(v), stroke: "#D4D4D4", lineWidth: 0.5 } };
    },
  });
  const upperCells: number[][] = [];
  STEP_R.forEach((row, i) => row.forEach((v, j) => upperCells.push([i + j, i, v])));
  const lowerCells: number[][] = [];
  SIG_R.forEach((row, i) => row.forEach((v, j) => lowerCells.push([j, i, v])));
  series.push(cellSeries(gi("DU"), upperCells));
  series.push(cellSeries(gi("DL"), lowerCells));
  const linkSeries = (g: number, names: string[], pseg: string[], sign: string[], dcol: number) => ({
    type: "custom", xAxisIndex: g, yAxisIndex: g, silent: true, z: 5,
    data: names.map((_, i) => [i + dcol, i]),
    renderItem: (params: any, api: any) => {
      const i = params.dataIndex;
      const p = api.coord([api.value(0), api.value(1)]);
      const color = PSEG_COLORS[PSEG_LEVELS.indexOf(pseg[i])];
      return {
        type: "group",
        children: [
          { type: "line", shape: { x1: MLAG_NODE[0], y1: MLAG_NODE[1], x2: p[0], y2: p[1] }, style: { stroke: color, lineWidth: 1.1, lineDash: sign[i] === "neg" ? [3, 2] : null } },
          { type: "circle", shape: { cx: p[0], cy: p[1], r: 2.2 }, style: { fill: "#E0262F", stroke: "#3340A0", lineWidth: 0.8 } },
        ],
      };
    },
  });
  series.push(linkSeries(gi("DU"), STEP_NAMES, STEP_PSEG, STEP_SIGN, -1));
  series.push(linkSeries(gi("DL"), SIG_NAMES, SIG_PSEG, SIG_SIGN, 1));

  // ---- E / I violins
  series.push(violinSeries(gi("E"), [mk(E_CR_PROFILE, E_CR_BOX, E_CR_OUT, SLATE), mk(E_SD_PROFILE, E_SD_BOX, E_SD_OUT, ORANGE)], 0.53, 0.095));
  series.push(bracketSeries(gi("E"), 7.02, 6.8, E_PVALUE, 7.33, 9.5, "#8a8a8a"));
  series.push(violinSeries(gi("I"), [mk(I_CR_PROFILE, I_CR_BOX, I_CR_OUT, SLATE), mk(I_SD_PROFILE, I_SD_BOX, I_SD_OUT, ORANGE)], 0.5, 0.095));
  series.push(bracketSeries(gi("I"), 2.37, 2.18, I_PVALUE, 2.67, 11.5, "#333"));

  // ---- F / J KM
  const gF = gi("F");
  series.push(dashed(gF, [[0, 0.5], [21, 0.5]]));
  F_MEDIANS.forEach((m) => series.push(dashed(gF, [[m, 0.5], [m, 0]])));
  series.push(kmLine(gF, F_HIGH, RISK_COLORS[0]));
  series.push(kmLine(gF, F_LOW, RISK_COLORS[1]));
  series.push(censors(gF, F_HIGH_CENS, RISK_COLORS[0], 3.2));
  series.push(censors(gF, F_LOW_CENS, RISK_COLORS[1], 3.2));
  const gJ = gi("J");
  series.push(dashed(gJ, [[0, 0.5], [J_MEDIANS[0], 0.5]], "#999"));
  J_MEDIANS.forEach((m) => series.push(dashed(gJ, [[m, 0.5], [m, 0]], "#999")));
  series.push(kmLine(gJ, J_HIGH, RISK_COLORS[0], 1.3));
  series.push(kmLine(gJ, J_LOW, "#6E8086", 1.3));
  series.push(censors(gJ, J_HIGH_CENS, RISK_COLORS[0], 3.2));
  series.push(censors(gJ, J_LOW_CENS, "#6E8086", 3.2));

  // ---- G / K ROC
  const gG = gi("G");
  series.push({ type: "line", xAxisIndex: gG, yAxisIndex: gG, data: [[0, 0], [1, 1]], symbol: "none", lineStyle: { color: "#D0D0D0", width: 0.8 }, silent: true, z: 2 });
  series.push(rocLine(gG, G_TMB, G_COLORS[0]));
  series.push(rocLine(gG, G_RISK, G_COLORS[1]));
  series.push(rocLine(gG, G_COMB, G_COLORS[2], 1.2));
  const gK = gi("K");
  series.push({ type: "line", xAxisIndex: gK, yAxisIndex: gK, data: [[0, 0], [1, 1]], symbol: "none", lineStyle: { color: "#D0D0D0", width: 0.8 }, silent: true, z: 2 });
  series.push(rocLine(gK, K_RISK, K_COLOR, 1.2));

  // ---- H / L stacked bars
  const barSeries = (g: number, name: string, counts: number[], totals: number[], color: string, stack: string, bw: number) => ({
    type: "bar", name, xAxisIndex: g, yAxisIndex: g, stack, barWidth: bw, silent: true,
    data: counts.map((c, i) => (100 * c) / totals[i]),
    itemStyle: { color, borderColor: "#3d3d3d", borderWidth: 0.6 },
    label: {
      show: true, position: "inside", formatter: (p: any) => Math.round(p.value) + "%", fontSize: 10.5, color: "#1a1a1a", fontFamily: FONT,
      backgroundColor: "rgba(0,0,0,0.1)", borderColor: "rgba(0,0,0,0.3)", borderWidth: 0.5, padding: [1, 1, 0, 1], borderRadius: 1,
    },
  });
  const hTot = H_CR.map((c, i) => c + H_SD[i]);
  const lTot = L_CR.map((c, i) => c + L_SD[i]);
  series.push(barSeries(gi("H"), "CR/PR", H_CR, hTot, RESP_COLORS[0], "H", 54));
  series.push(barSeries(gi("H"), "SD/PD", H_SD, hTot, RESP_COLORS[1], "H", 54));
  series.push(barSeries(gi("L"), "CR/PR", L_CR, lTot, RESP_COLORS[0], "L", 53.3));
  series.push(barSeries(gi("L"), "SD/PD", L_SD, lTot, RESP_COLORS[1], "L", 53.3));

  // ================= graphic (titles, legends, annotations) =================
  const G: any[] = [];
  const letters: [string, number, number][] = [["A", 3, 8.5], ["B", 3, 158.7], ["C", 3, 299.7], ["D", 315, 158.7], ["E", 2.7, 463.8], ["F", 180, 463.8], ["G", 372, 463.8], ["H", 589.7, 463.3], ["I", 1.7, 669], ["J", 180, 669], ["K", 373, 669], ["L", 587, 670]];
  letters.forEach(([l, x, y]) => G.push(txt(l, x, y, 13.5, { bold: true, color: "#000" })));
  G.push(txt("ESTIMATE_score", 8.3, 82, 9.5, { rot: true, align: "center" }));
  G.push(txt("Immune_score", 196.7, 78, 9.5, { rot: true, align: "center" }));
  G.push(txt("Stromal_score", 383.3, 73, 9.5, { rot: true, align: "center" }));
  G.push(txt("Purity", 573.3, 77, 9.5, { rot: true, align: "center" }));
  // B legend & annotations
  G.push(txt("risk", 121, 157, 5.5));
  G.push(box(132.3, 152.7, 11, 8.3, ORANGE, "#8c8c8c"));
  G.push(seg(132.3, 156.8, 143.3, 156.8, "#C9C9C9", 0.8));
  G.push(txt("high", 147.3, 157, 5.5));
  G.push(box(159, 152.7, 11, 8.3, SLATE, "#8c8c8c"));
  G.push(seg(159, 156.8, 170, 156.8, "#C9C9C9", 0.8));
  G.push(txt("low", 172.7, 157, 5.5));
  G.push(txt("value", 5.5, 221.7, 5, { rot: true, align: "center" }));
  [65.6, 150, 234.4].forEach((x, i) => G.push(txt(B_PVALUES[i], x, 175.7, 6, { align: "center" })));
  // C legend & annotations
  const cKeys = [37.7, 97.7, 161.7, 225];
  cKeys.forEach((x, i) => { G.push(...kmKey(x, 297.7, C_COLORS[i])); G.push(txt(C_NAMES[i], x + 5, 297.7, 4.8, { color: "#333" })); });
  G.push(txt("Survival probability", 6, 373, 5.3, { rot: true, align: "center" }));
  G.push(txt("Time in Year", 152, 449.5, 5.6, { align: "center" }));
  G.push(txt("Log-rank", 43, 397.7, 7));
  G.push(txt("p < 0.0001", 43, 410.7, 7));
  // D legends
  G.push(txt("pSeg", 340, 192.3, 6));
  PSEG_LEVELS.forEach((l, i) => {
    const y = 201.7 + i * 9.3;
    G.push(box(339.5, y - 4.4, 10, 8.8, "#F0F0F0"));
    G.push(seg(340.5, y, 348.5, y, PSEG_COLORS[i], 1.2));
    G.push(txt(l, 352.3, y, 5.2));
  });
  G.push(txt("rSeg", 392.7, 192.3, 6));
  RSEG_LEVELS.forEach((l, i) => {
    const y = 202.3 + i * 9.4;
    G.push(box(393, y - 4.4, 9, 8.8, "#F0F0F0"));
    G.push(seg(394, y, 401, y, "#333", i === 0 ? 1.2 : 2.6));
    G.push(txt(l, 405, y, 5.2));
  });
  G.push(txt("sign", 435, 192.3, 6));
  SIGN_LEVELS.forEach((l, i) => {
    const y = 202.3 + i * 9.4;
    G.push(box(435.5, y - 4.4, 9, 8.8, "#F0F0F0"));
    G.push(seg(436.5, y, 443.5, y, "#333", 1.1, l === "neg" ? [2.2, 1.6] : undefined));
    G.push(txt(l, 447.3, y, 5.2));
  });
  G.push({ type: "circle", z: 60, shape: { cx: MLAG_NODE[0], cy: MLAG_NODE[1], r: 2.4 }, style: { fill: "#E0262F", stroke: "#3340A0", lineWidth: 0.9 } });
  G.push(txt("MLAG", 506.7, 314.3, 7, { color: "#333" }));
  // colorbar
  const cbTop = 364, cbPerUnit = 43, cbBottom = cbTop + (1 - R_MIN) * cbPerUnit;
  const stops = [1, 0.5, 0, R_MIN].map((r) => ({ offset: (1 - r) / (1 - R_MIN), color: rColor(r) }));
  G.push(txt("r", 563, 358, 7));
  G.push({ type: "rect", z: 49, shape: { x: 562.7, y: cbTop, width: 7.3, height: cbBottom - cbTop }, style: { fill: new echarts.graphic.LinearGradient(0, 0, 0, 1, stops) } });
  R_LEGEND.forEach((r) => G.push(txt(r.toFixed(1), 577, cbTop + (1 - r) * cbPerUnit, 5.5, { color: "#333" })));
  // E / I titles
  G.push(txt("riskscore", 17, 548, 10, { rot: true, align: "center" }));
  G.push(txt("riskscore", 6.7, 757, 10, { rot: true, align: "center" }));
  // F / J legends & annotations
  const kmLegend = (y: number, lowColor: string) => {
    G.push(txt("Strata", 266, y, 6, { color: "#333" }));
    G.push(...kmKey(287.5, y, RISK_COLORS[0]));
    G.push(txt(RISK_NAMES[0], 292.3, y, 5.5, { color: "#333" }));
    G.push(...kmKey(318.5, y, lowColor));
    G.push(txt(RISK_NAMES[1], 322.7, y, 5.5, { color: "#333" }));
  };
  kmLegend(471, RISK_COLORS[1]);
  kmLegend(683.3, "#6E8086");
  G.push(txt("Survival probability", 195, 548, 5.3, { rot: true, align: "center" }));
  G.push(txt("Time in Year", 303.3, 627.3, 5.8, { align: "center" }));
  G.push(txt("Log-rank", 220.7, 574, 7));
  G.push(txt("p < 0.0001", 220.7, 585.7, 7));
  G.push(txt("Survival probability", 195, 760.7, 5.3, { rot: true, align: "center" }));
  G.push(txt("Time in Year", 303.3, 839.3, 5.8, { align: "center" }));
  G.push(txt("Log-rank", 220.7, 786.7, 7));
  G.push(txt("p = 0.099", 220.7, 799.3, 7));
  // G / K titles & legends
  G.push(txt("Sensitivity", 398.7, 541.7, 5, { rot: true, align: "center", bold: true }));
  G.push(txt("1 \u2212 Specificity", 499.7, 644, 5.3, { align: "center", bold: true }));
  G_NAMES.forEach((n, i) => {
    const y = 599.3 + i * 7.35;
    G.push(seg(493.7, y, 503, y, i === 2 ? "#7C8B8F" : G_COLORS[i], 1.2));
    G.push(txt(n, 507.7, y, 5.6, { color: "#333" }));
  });
  G.push(txt("Sensitivity", 399.7, 752.5, 5, { rot: true, align: "center", bold: true }));
  G.push(txt("1 \u2212 Specificity", 499.7, 854, 5.3, { align: "center", bold: true }));
  G.push(seg(510.3, 825.7, 521, 825.7, K_COLOR, 1.2));
  G.push(txt(K_NAME, 526, 825.7, 5.6, { color: "#333" }));
  // H / L legends
  const barLegend = (y: number) => {
    G.push(box(641, y - 5.3, 11, 10.6, RESP_COLORS[0]));
    G.push(txt("CR/PR", 653.7, y, 8.6));
    G.push(box(683, y - 5.3, 10.7, 10.6, RESP_COLORS[1]));
    G.push(txt("SD/PD", 694.7, y, 8.6));
  };
  barLegend(462);
  barLegend(672);

  return {
    animation: false,
    backgroundColor: "#ffffff",
    textStyle: { fontFamily: FONT },
    grid, xAxis, yAxis, series,
    graphic: { elements: G },
  };
}

export default function App() {
  const ref = useRef<HTMLDivElement>(null);
  useEffect(() => {
    if (!ref.current) return;
    const chart = echarts.init(ref.current, undefined, { renderer: "svg" });
    chart.setOption(buildOption() as any);
    return () => chart.dispose();
  }, []);
  return <div ref={ref} style={{ position: "absolute", left: 0, top: 0, width: 754, height: 860, background: "#fff" }} />;
}
